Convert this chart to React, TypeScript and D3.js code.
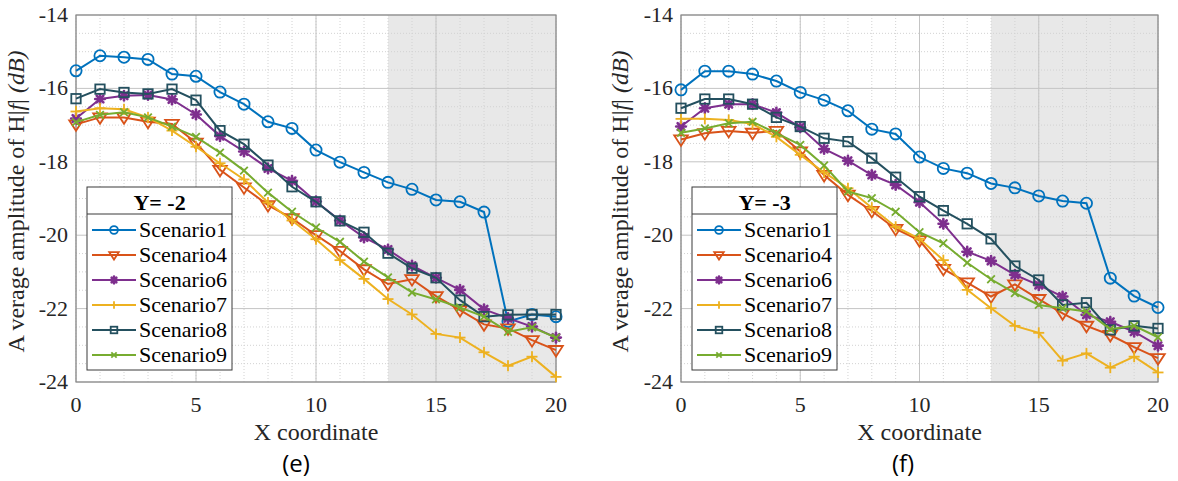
import React from 'react';
import * as d3 from 'd3';

const xCoords = [0, 1, 2, 3, 4, 5, 6, 7, 8, 9, 10, 11, 12, 13, 14, 15, 16, 17, 18, 19, 20];
const xTicks = [0, 5, 10, 15, 20];
const yTicks = [-14, -16, -18, -20, -22, -24];
const xMinorTicks = [0, 1, 2, 3, 4, 5, 6, 7, 8, 9, 10, 11, 12, 13, 14, 15, 16, 17, 18, 19, 20];
const yMinorTicks = [-14.5, -15, -15.5, -16.5, -17, -17.5, -18.5, -19, -19.5, -20.5, -21, -21.5, -22.5, -23, -23.5];
const shadedRange = [13, 20];
const seriesNames = ['Scenario1', 'Scenario4', 'Scenario6', 'Scenario7', 'Scenario8', 'Scenario9'];
const seriesColors = ['#0072BD', '#D95319', '#7E2F8E', '#EDB120', '#24505F', '#77AC30'];
const seriesMarkers = ['circle', 'triangle', 'star', 'plus', 'square', 'cross'];

// Panel (e): Y = -2
const e_s1 = [-15.52, -15.11, -15.15, -15.21, -15.61, -15.67, -16.10, -16.43, -16.91, -17.09, -17.68, -18.01, -18.29, -18.56, -18.75, -19.04, -19.09, -19.37, -22.35, -22.16, -22.22];
const e_s4 = [-16.98, -16.79, -16.79, -16.91, -16.97, -17.48, -18.22, -18.70, -19.18, -19.54, -20.00, -20.43, -20.93, -21.33, -21.20, -21.66, -22.04, -22.43, -22.54, -22.86, -23.13];
const e_s6 = [-16.82, -16.29, -16.20, -16.18, -16.30, -16.71, -17.30, -17.72, -18.18, -18.52, -19.08, -19.60, -20.06, -20.39, -20.83, -21.16, -21.49, -22.02, -22.26, -22.49, -22.79];
const e_s7 = [-16.63, -16.54, -16.57, -16.79, -17.15, -17.59, -18.04, -18.48, -19.11, -19.60, -20.11, -20.68, -21.19, -21.74, -22.16, -22.69, -22.79, -23.19, -23.56, -23.31, -23.86];
const e_s8 = [-16.28, -16.02, -16.11, -16.15, -16.02, -16.32, -17.15, -17.52, -18.09, -18.68, -19.09, -19.61, -19.92, -20.49, -20.90, -21.16, -21.77, -22.22, -22.17, -22.16, -22.16];
const e_s9 = [-16.92, -16.72, -16.65, -16.79, -17.04, -17.32, -17.75, -18.24, -18.84, -19.36, -19.79, -20.18, -20.72, -21.15, -21.56, -21.75, -21.97, -22.22, -22.63, -22.51, -22.79];

// Panel (f): Y = -3
const f_s1 = [-16.04, -15.53, -15.53, -15.61, -15.80, -16.11, -16.32, -16.61, -17.11, -17.24, -17.87, -18.18, -18.31, -18.59, -18.71, -18.93, -19.07, -19.13, -21.17, -21.66, -21.97];
const f_s4 = [-17.39, -17.22, -17.16, -17.21, -17.16, -17.72, -18.36, -18.90, -19.34, -19.83, -20.14, -20.92, -21.29, -21.67, -21.34, -21.74, -22.13, -22.47, -22.72, -23.05, -23.35];
const f_s6 = [-17.04, -16.54, -16.43, -16.43, -16.66, -17.06, -17.65, -17.97, -18.36, -18.63, -19.10, -19.69, -20.45, -20.70, -21.08, -21.36, -21.67, -22.17, -22.36, -22.63, -23.01];
const f_s7 = [-16.83, -16.83, -16.86, -16.97, -17.32, -17.81, -18.29, -18.72, -19.25, -19.77, -20.10, -20.68, -21.49, -21.99, -22.47, -22.66, -23.42, -23.22, -23.61, -23.31, -23.74];
const f_s8 = [-16.54, -16.29, -16.29, -16.43, -16.79, -17.04, -17.36, -17.45, -17.90, -18.42, -18.95, -19.33, -19.69, -20.10, -20.84, -21.22, -21.90, -21.84, -22.58, -22.47, -22.54];
const f_s9 = [-17.21, -17.09, -16.95, -16.91, -17.22, -17.54, -18.10, -18.81, -18.99, -19.36, -19.92, -20.22, -20.75, -21.20, -21.58, -21.90, -21.99, -22.08, -22.56, -22.47, -22.78];

const panelE = [e_s1, e_s4, e_s6, e_s7, e_s8, e_s9];
const panelF = [f_s1, f_s4, f_s6, f_s7, f_s8, f_s9];

const SERIF = 'Liberation Serif';
const serifStyle = { fontFamily: SERIF };

function Marker({ type, x, y, color, s = 1 }: { type: string; x: number; y: number; color: string; s?: number }) {
  const sw = 1.8;
  if (type === 'circle') {
    return <circle cx={x} cy={y} r={5.6 * s} fill="none" stroke={color} strokeWidth={sw} />;
  }
  if (type === 'triangle') {
    const r = 6.8 * s;
    const pts = [[x - r, y - r * 0.6], [x + r, y - r * 0.6], [x, y + r * 0.95]].map((p) => p.join(',')).join(' ');
    return <polygon points={pts} fill="none" stroke={color} strokeWidth={sw} />;
  }
  if (type === 'square') {
    const h = 4.7 * s;
    return <rect x={x - h} y={y - h} width={2 * h} height={2 * h} fill="none" stroke={color} strokeWidth={sw} />;
  }
  if (type === 'plus') {
    const h = 5.5 * s;
    return (
      <g stroke={color} strokeWidth={sw}>
        <line x1={x - h} y1={y} x2={x + h} y2={y} />
        <line x1={x} y1={y - h} x2={x} y2={y + h} />
      </g>
    );
  }
  if (type === 'cross') {
    const h = 3.8 * s;
    return (
      <g stroke={color} strokeWidth={sw}>
        <line x1={x - h} y1={y - h} x2={x + h} y2={y + h} />
        <line x1={x - h} y1={y + h} x2={x + h} y2={y - h} />
      </g>
    );
  }
  const h = 4.8 * s;
  return (
    <g stroke={color} strokeWidth={2.6} strokeLinecap="round">
      <line x1={x - h} y1={y} x2={x + h} y2={y} />
      <line x1={x} y1={y - h} x2={x} y2={y + h} />
      <line x1={x - h * 0.7} y1={y - h * 0.7} x2={x + h * 0.7} y2={y + h * 0.7} />
      <line x1={x - h * 0.7} y1={y + h * 0.7} x2={x + h * 0.7} y2={y - h * 0.7} />
      <circle cx={x} cy={y} r={2.6 * s} fill={color} stroke="none" />
    </g>
  );
}

function Panel({ data, left, right, label, title, labelX, letterX }: {
  data: number[][]; left: number; right: number; label: string; title: string; labelX: number; letterX: number;
}) {
  const top = 15;
  const bottom = 382;
  const x = d3.scaleLinear().domain([0, 20]).range([left, right]);
  const y = d3.scaleLinear().domain([-24, -14]).range([bottom, top]);
  const line = d3.line<number>().x((_, i) => x(xCoords[i])).y((d) => y(d));

  const legX = left + 11;
  const legY = 187;
  const legW = 145;
  const legH = 183;

  return (
    <g>
      <rect x={left} y={top} width={right - left} height={bottom - top} fill="#ffffff" />
      <rect x={x(shadedRange[0])} y={top} width={x(shadedRange[1]) - x(shadedRange[0])} height={bottom - top} fill="#e8e8e8" />
      {xMinorTicks.map((t) => (
        <line key={'xm' + t} x1={x(t)} x2={x(t)} y1={top} y2={bottom} stroke="#d2d2d2" strokeWidth={1} strokeDasharray="1,2" />
      ))}
      {yMinorTicks.map((t) => (
        <line key={'ym' + t} x1={left} x2={right} y1={y(t)} y2={y(t)} stroke="#d2d2d2" strokeWidth={1} strokeDasharray="1,2" />
      ))}
      {xTicks.map((t) => (
        <line key={'xg' + t} x1={x(t)} x2={x(t)} y1={top} y2={bottom} stroke="#c4c4c4" strokeWidth={1} />
      ))}
      {yTicks.map((t) => (
        <line key={'yg' + t} x1={left} x2={right} y1={y(t)} y2={y(t)} stroke="#c4c4c4" strokeWidth={1} />
      ))}
      <rect x={left} y={top} width={right - left} height={bottom - top} fill="none" stroke="#8a8a8a" strokeWidth={1.2} />
      {xTicks.map((t) => (
        <text key={'xl' + t} x={x(t)} y={bottom + 30} textAnchor="middle" style={serifStyle} fontSize={22} fill="#262626">{t}</text>
      ))}
      {yTicks.map((t) => (
        <text key={'yl' + t} x={left - 8} y={y(t) + 7} textAnchor="end" style={serifStyle} fontSize={22} fill="#262626">{t}</text>
      ))}
      <text x={(left + right) / 2} y={440} textAnchor="middle" style={serifStyle} fontSize={24} fill="#262626">X coordinate</text>
      <text transform={`translate(${labelX},${(top + bottom) / 2 + 3}) rotate(-90)`} textAnchor="middle" style={serifStyle} fontSize={24} fill="#262626">
        A verage amplitude of H|<tspan fontStyle="italic">f</tspan>| <tspan fontStyle="italic">(dB)</tspan>
      </text>
      <text x={letterX} y={472} textAnchor="middle" style={{ fontFamily: 'Open Sans' }} fontSize={24} fill="#000">{label}</text>

      {data.map((vals, si) => (
        <g key={'s' + si}>
          <path d={line(vals) || ''} fill="none" stroke={seriesColors[si]} strokeWidth={2} />
          {vals.map((v, i) => (
            <Marker key={i} type={seriesMarkers[si]} x={x(xCoords[i])} y={y(v)} color={seriesColors[si]} />
          ))}
        </g>
      ))}

      <rect x={legX} y={legY} width={legW} height={legH} fill="#ffffff" stroke="#3a3a3a" strokeWidth={1} />
      <text x={legX + legW / 2} y={legY + 23} textAnchor="middle" style={serifStyle} fontSize={22} fontWeight="bold" fill="#000">{title}</text>
      <line x1={legX} x2={legX + legW} y1={legY + 27} y2={legY + 27} stroke="#3a3a3a" strokeWidth={1} />
      {seriesNames.map((n, i) => {
        const ry = legY + 43 + i * 25;
        return (
          <g key={n}>
            <line x1={legX + 5} x2={legX + 49} y1={ry} y2={ry} stroke={seriesColors[i]} strokeWidth={2} />
            <Marker type={seriesMarkers[i]} x={legX + 27} y={ry} color={seriesColors[i]} s={0.7} />
            <text x={legX + 52} y={ry + 7} style={serifStyle} fontSize={22} fill="#000">{n}</text>
          </g>
        );
      })}
    </g>
  );
}

export default function App() {
  return (
    <svg width={1178} height={481} style={{ position: 'absolute', left: 0, top: 0, background: '#fff' }}>
      <rect x={0} y={0} width={1178} height={481} fill="#ffffff" />
      <Panel data={panelE} left={76} right={556} label="(e)" title="Y= -2" labelX={24} letterX={296} />
      <Panel data={panelF} left={681} right={1158} label="(f)" title="Y= -3" labelX={628} letterX={903} />
    </svg>
  );
}
